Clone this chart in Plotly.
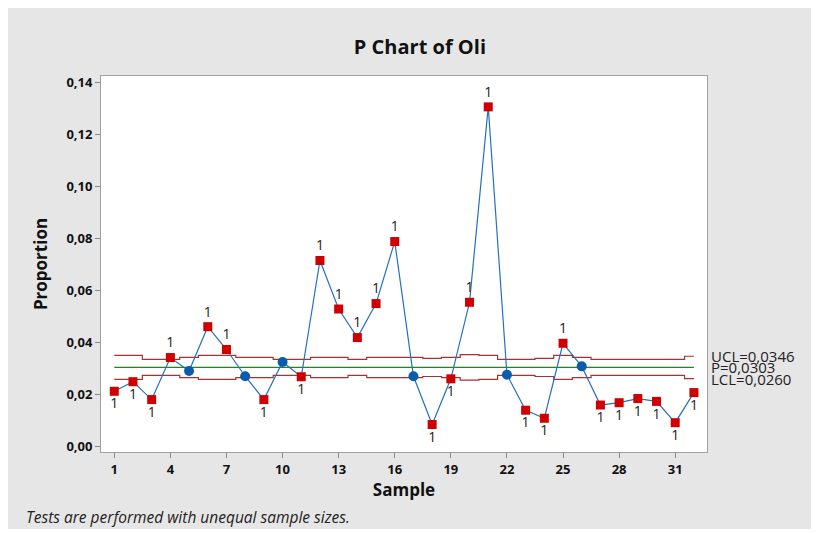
import plotly.graph_objects as go

samples = list(range(1, 33))
proportion = [0.0211, 0.0248, 0.0179, 0.0341, 0.0289, 0.0460, 0.0372, 0.0269,
              0.0179, 0.0324, 0.0267, 0.0715, 0.0528, 0.0418, 0.0549, 0.0788,
              0.0269, 0.0083, 0.0259, 0.0554, 0.1307, 0.0275, 0.0138, 0.0107,
              0.0396, 0.0307, 0.0158, 0.0167, 0.0183, 0.0172, 0.0090, 0.0206]
ucl = [0.0349, 0.0349, 0.0334, 0.0334, 0.0342, 0.0349, 0.0349, 0.0342,
       0.0342, 0.0334, 0.0334, 0.0342, 0.0342, 0.0334, 0.0342, 0.0342,
       0.0342, 0.0338, 0.0342, 0.0352, 0.0349, 0.0334, 0.0334, 0.0338,
       0.0349, 0.0342, 0.0334, 0.0334, 0.0334, 0.0334, 0.0334, 0.0346]
lcl = [0.0257, 0.0257, 0.0272, 0.0272, 0.0264, 0.0257, 0.0257, 0.0264,
       0.0264, 0.0272, 0.0272, 0.0264, 0.0264, 0.0272, 0.0264, 0.0264,
       0.0264, 0.0268, 0.0264, 0.0254, 0.0257, 0.0272, 0.0272, 0.0268,
       0.0257, 0.0264, 0.0272, 0.0272, 0.0272, 0.0272, 0.0272, 0.0260]
p_bar = 0.0303
x_ticks = [1, 4, 7, 10, 13, 16, 19, 22, 25, 28, 31]
y_ticks = [0.00, 0.02, 0.04, 0.06, 0.08, 0.10, 0.12, 0.14]

FONT = "Open Sans"
RED = "#D00000"
BLUE = "#0B5CAD"
LINE_BLUE = "#2470C0"
LIMIT = "#A83232"
GREEN = "#1A8A1A"
TXT = "#222222"

fig = go.Figure()

fig.add_trace(go.Scatter(x=samples, y=ucl, mode="lines", line=dict(color=LIMIT, width=1.2, shape="hvh"), hoverinfo="skip"))
fig.add_trace(go.Scatter(x=samples, y=lcl, mode="lines", line=dict(color=LIMIT, width=1.2, shape="hvh"), hoverinfo="skip"))
fig.add_trace(go.Scatter(x=[samples[0], samples[-1]], y=[p_bar, p_bar], mode="lines", line=dict(color=GREEN, width=1.2), hoverinfo="skip"))

fig.add_trace(go.Scatter(x=samples, y=proportion, mode="lines", line=dict(color=LINE_BLUE, width=1.2)))

above = [i for i, v in enumerate(proportion) if v > ucl[i]]
below = [i for i, v in enumerate(proportion) if v < lcl[i]]
inside = [i for i in range(len(proportion)) if i not in above and i not in below]

fig.add_trace(go.Scatter(x=[samples[i] for i in inside], y=[proportion[i] for i in inside],
                         mode="markers", marker=dict(symbol="circle", size=10, color=BLUE)))
fig.add_trace(go.Scatter(x=[samples[i] for i in above], y=[proportion[i] for i in above],
                         mode="markers+text", text=["1"] * len(above), textposition="top center",
                         textfont=dict(family=FONT, size=14, color=TXT),
                         marker=dict(symbol="square", size=9, color=RED)))
fig.add_trace(go.Scatter(x=[samples[i] for i in below], y=[proportion[i] for i in below],
                         mode="markers+text", text=["1"] * len(below), textposition="bottom center",
                         textfont=dict(family=FONT, size=14, color=TXT),
                         marker=dict(symbol="square", size=9, color=RED)))

annots = [
    dict(x=1, y=ucl[-1], xref="paper", yref="y", text="UCL=" + f"{ucl[-1]:.4f}".replace(".", ","),
         showarrow=False, xanchor="left", xshift=2, font=dict(family=FONT, size=15, color=TXT)),
    dict(x=1, y=p_bar, xref="paper", yref="y", text="P=" + f"{p_bar:.4f}".replace(".", ","),
         showarrow=False, xanchor="left", xshift=2, font=dict(family=FONT, size=15, color=TXT)),
    dict(x=1, y=lcl[-1], xref="paper", yref="y", text="LCL=" + f"{lcl[-1]:.4f}".replace(".", ","),
         showarrow=False, xanchor="left", xshift=2, font=dict(family=FONT, size=15, color=TXT)),
    dict(x=-0.127, y=-0.172, xref="paper", yref="paper", text="<i>Tests are performed with unequal sample sizes.</i>",
         showarrow=False, xanchor="left", yanchor="middle", font=dict(family=FONT, size=15.5, color=TXT)),
]

fig.update_layout(
    width=803, height=521,
    margin=dict(l=93, r=104, t=68, b=77),
    paper_bgcolor="#E6E6E6",
    plot_bgcolor="white",
    separators=", ",
    showlegend=False,
    title=dict(text="<b>P Chart of Oli</b>", x=0.513, xanchor="center", y=0.925, yanchor="middle",
               font=dict(family=FONT, size=20, color="#111111")),
    font=dict(family=FONT, color="#111111"),
    annotations=annots,
    xaxis=dict(range=[0.29, 32.70], tickvals=x_ticks, ticks="outside", ticklen=5, tickcolor="#888888",
               showgrid=False, zeroline=False, showline=True, mirror=True, linecolor="#A0A0A0", linewidth=1,
               tickfont=dict(family=FONT, size=13, color="#111111", weight="bold"),
               title=dict(text="<b>Sample</b>", font=dict(family=FONT, size=17, color="#111111"), standoff=6)),
    yaxis=dict(range=[-0.0023, 0.1426], tickvals=y_ticks, tickformat=".2f", ticks="outside", ticklen=5,
               tickcolor="#888888", showgrid=False, zeroline=False, showline=True, mirror=True,
               linecolor="#A0A0A0", linewidth=1,
               tickfont=dict(family=FONT, size=13, color="#111111", weight="bold"),
               title=dict(text="<b>Proportion</b>", font=dict(family=FONT, size=17, color="#111111"), standoff=14)),
)

fig.write_html("out.html")
